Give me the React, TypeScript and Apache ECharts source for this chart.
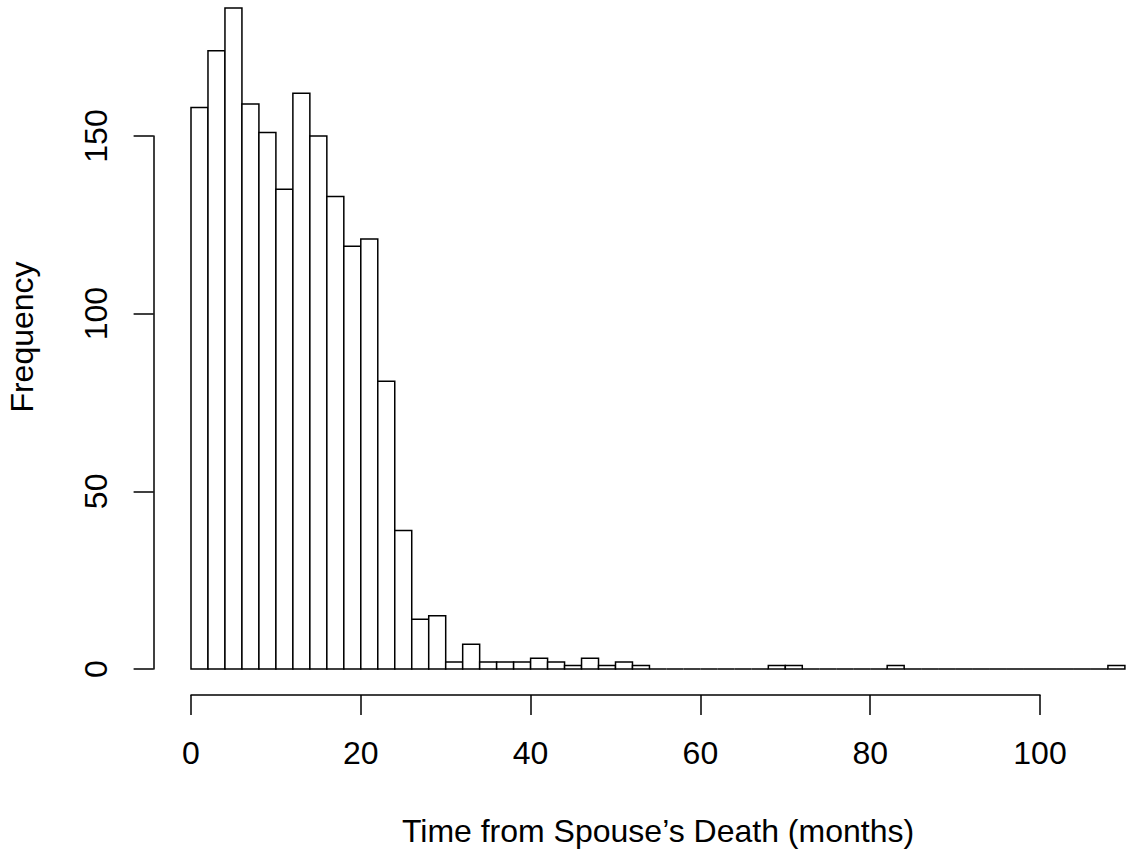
import React, { useEffect, useRef } from "react";
import * as echarts from "echarts";

// Histogram bins (left edges, months) and frequencies
const binStarts = [
  0, 2, 4, 6, 8, 10, 12, 14, 16, 18, 20, 22, 24, 26, 28, 30, 32, 34, 36, 38,
  40, 42, 44, 46, 48, 50, 52, 54, 56, 58, 60, 62, 64, 66, 68, 70, 72, 74, 76,
  78, 80, 82, 84, 86, 88, 90, 92, 94, 96, 98, 100, 102, 104, 106, 108,
];
const binWidth = 2;
const counts = [
  158, 174, 186, 159, 151, 135, 162, 150, 133, 119, 121, 81, 39, 14, 15, 2, 7,
  2, 2, 2, 3, 2, 1, 3, 1, 2, 1, 0, 0, 0, 0, 0, 0, 0, 1, 1, 0, 0, 0, 0, 0, 1, 0,
  0, 0, 0, 0, 0, 0, 0, 0, 0, 0, 0, 1,
];
const xTicks = [0, 20, 40, 60, 80, 100];
const yTicks = [0, 50, 100, 150];

const xTitle = "Time from Spouse\u2019s Death (months)";
const yTitle = "Frequency";

const FONT = "'Liberation Sans', Arial, Helvetica, sans-serif";
const FS = 32;

export default function App() {
  const ref = useRef<HTMLDivElement>(null);
  useEffect(() => {
    document.body.style.margin = "0";
    if (!ref.current) return;
    const chart = echarts.init(ref.current, undefined, { renderer: "svg" });
    const data = binStarts.map((s, i) => [s, s + binWidth, counts[i]]);
    chart.setOption({
      animation: false,
      backgroundColor: "#ffffff",
      textStyle: { fontFamily: FONT },
      grid: { left: 191, right: 88, top: 136, bottom: 184, containLabel: false },
      xAxis: {
        type: "value",
        min: xTicks[0],
        max: xTicks[xTicks.length - 1],
        interval: 20,
        offset: 26,
        axisLine: { show: true, onZero: false, lineStyle: { color: "#000", width: 1.5 } },
        axisTick: { show: true, length: 20, lineStyle: { color: "#000", width: 1.5 } },
        axisLabel: { color: "#000", fontSize: FS, fontFamily: FONT, margin: 42 },
        splitLine: { show: false },
      },
      yAxis: {
        type: "value",
        min: yTicks[0],
        max: yTicks[yTicks.length - 1],
        interval: 50,
        offset: 37.4,
        axisLine: { show: true, onZero: false, lineStyle: { color: "#000", width: 1.5 } },
        axisTick: { show: true, length: 20, lineStyle: { color: "#000", width: 1.5 } },
        axisLabel: { color: "#000", fontSize: FS, fontFamily: FONT, margin: 42, rotate: 90 },
        splitLine: { show: false },
      },
      series: [
        {
          type: "custom",
          clip: false,
          data,
          renderItem: (params: any, api: any) => {
            const x0 = api.value(0);
            const x1 = api.value(1);
            const c = api.value(2);
            const p0 = api.coord([x0, 0]);
            const p1 = api.coord([x1, c]);
            return {
              type: "rect",
              shape: {
                x: p0[0],
                y: p1[1],
                width: p1[0] - p0[0],
                height: p0[1] - p1[1],
              },
              style: { fill: "#ffffff", stroke: "#000000", lineWidth: 1.5 },
            };
          },
        },
      ],
      graphic: [
        {
          type: "text",
          x: 658,
          y: 831,
          style: {
            text: xTitle,
            fontSize: FS,
            fontFamily: FONT,
            fill: "#000",
            textAlign: "center",
            textVerticalAlign: "middle",
          },
        },
        {
          type: "text",
          x: 22,
          y: 337,
          rotation: Math.PI / 2,
          style: {
            text: yTitle,
            fontSize: FS,
            fontFamily: FONT,
            fill: "#000",
            textAlign: "center",
            textVerticalAlign: "middle",
          },
        },
      ],
    });
    return () => chart.dispose();
  }, []);
  return <div ref={ref} style={{ width: 1128, height: 853 }} />;
}
